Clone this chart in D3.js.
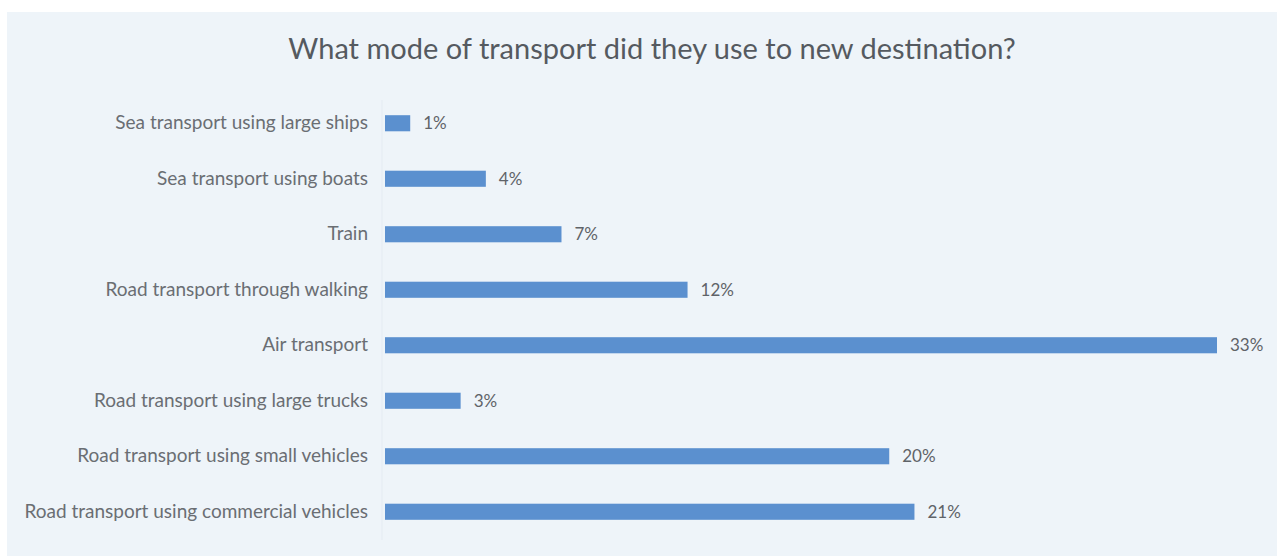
<!DOCTYPE html>
<html>
<head>
<meta charset="utf-8">
<script src="https://cdn.jsdelivr.net/npm/d3@7"></script>
<style>
  html, body { margin: 0; padding: 0; background: #ffffff; }
  svg { display: block; }
</style>
</head>
<body>
<svg id="chart" width="1277" height="556"></svg>
<script>
// Survey answers: mode of transport used to reach the new destination
const categories = [
  "Sea transport using large ships",
  "Sea transport using boats",
  "Train",
  "Road transport through walking",
  "Air transport",
  "Road transport using large trucks",
  "Road transport using small vehicles",
  "Road transport using commercial vehicles"
];
const shares = [1, 4, 7, 12, 33, 3, 20, 21];
const valueLabels = ["1%", "4%", "7%", "12%", "33%", "3%", "20%", "21%"];
const title = "What mode of transport did they use to new destination?";

const W = 1277, H = 556;
const svg = d3.select("#chart");
const font = "Lato, 'Open Sans', sans-serif";

// panel background
svg.append("rect")
  .attr("x", 7).attr("y", 12)
  .attr("width", W - 7).attr("height", H - 12)
  .attr("fill", "#eef4f9");

svg.append("text")
  .attr("x", 652).attr("y", 59)
  .attr("text-anchor", "middle")
  .attr("font-family", font)
  .attr("font-size", 29)
  .attr("fill", "#555a60")
  .text(title);

const x = d3.scaleLinear().domain([0, 33]).range([385, 1217]);
const y = d3.scaleBand()
  .domain(categories)
  .range([95.5, 539.5])
  .paddingInner(0.71)
  .paddingOuter(0.355);

// faint category axis line
svg.append("line")
  .attr("x1", x(0) - 3).attr("x2", x(0) - 3)
  .attr("y1", 100).attr("y2", 540)
  .attr("stroke", "#e4ebf2").attr("stroke-width", 1);

const yAxis = d3.axisLeft(y).tickSize(0).tickPadding(17);
const gy = svg.append("g")
  .attr("transform", `translate(${x(0)},0)`)
  .call(yAxis);
gy.select(".domain").remove();
gy.selectAll("text")
  .attr("font-family", font)
  .attr("font-size", 19)
  .attr("fill", "#6a6e73");

const rows = categories.map((c, i) => ({ c, v: shares[i], label: valueLabels[i] }));

svg.append("g").selectAll("rect")
  .data(rows)
  .join("rect")
  .attr("x", x(0))
  .attr("y", d => y(d.c))
  .attr("width", d => x(d.v) - x(0))
  .attr("height", y.bandwidth())
  .attr("fill", "#5b90cf");

svg.append("g").selectAll("text")
  .data(rows)
  .join("text")
  .attr("x", d => x(d.v) + 13)
  .attr("y", d => y(d.c) + y.bandwidth() / 2)
  .attr("dy", "0.35em")
  .attr("font-family", font)
  .attr("font-size", 17)
  .attr("fill", "#5f6368")
  .text(d => d.label);
</script>
</body>
</html>
